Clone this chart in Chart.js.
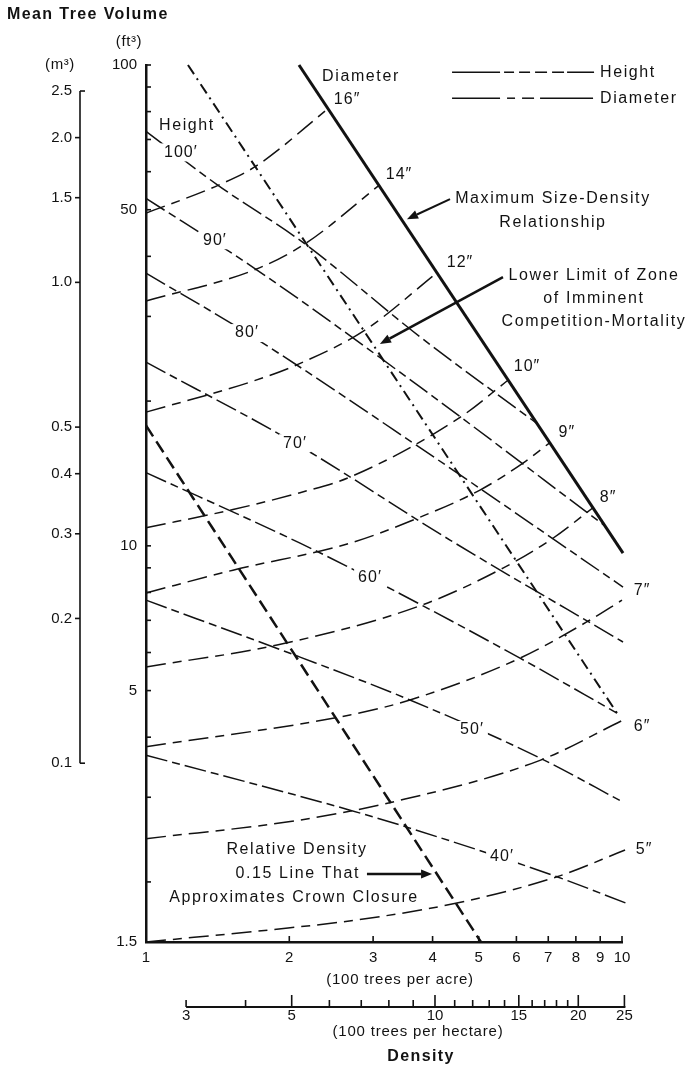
<!DOCTYPE html>
<html>
<head>
<meta charset="utf-8">
<script src="https://cdn.jsdelivr.net/npm/chart.js@4.4.1/dist/chart.umd.min.js"></script>
<style>
  html, body { margin: 0; padding: 0; background: #fff; }
  canvas { display: block; }
</style>
</head>
<body>
<canvas id="stand" width="692" height="1080"></canvas>
<script>
// Unit conversions for the secondary axes
const FT3_PER_M3 = 35.3147;          // 1 m3 = 35.3147 ft3
const HA_PER_ACRE_DENSITY = 2.47105; // trees/ha = trees/acre * 2.47105

// Density (100 trees per acre) vs. mean tree volume (ft3) along each height line
const height100 = [[1, 72.8], [1.417, 56.2], [2.147, 42.6], [3.764, 27.2], [6.627, 17.97]];
const height90  = [[1, 52.8], [1.702, 37.6], [3.764, 21.4], [9.21, 11.0]];
const height80  = [[1, 36.9], [1.63, 27.7], [3.764, 16.0], [10.05, 8.21]];
const height70  = [[1, 24.1], [2.056, 16.35], [4.352, 10.28], [10.05, 6.31]];
const height60  = [[1, 14.2], [2.107, 10.13], [2.955, 8.57], [6.106, 5.84], [9.76, 4.49]];
const height50  = [[1, 7.71], [2.107, 5.87], [3.585, 4.78], [6.725, 3.62], [10.05, 2.93]];
const height40  = [[1, 3.67], [2.683, 2.82], [3.53, 2.6], [7.3, 2.05], [10.3, 1.8]];

// Quadratic mean diameter lines
const dia16 = [[1, 49.2], [1.417, 56.2], [1.702, 61.6], [2.412, 81.1]];
const dia14 = [[1, 32.3], [1.702, 37.6], [2.168, 42.6], [3.087, 56.2]];
const dia12 = [[1, 18.97], [1.654, 21.9], [2.076, 23.8], [2.884, 28.1], [4.087, 37.0]];
const dia10 = [[1, 10.9], [1.523, 11.9], [2.107, 12.9], [2.683, 13.9], [4.568, 18.5], [5.761, 22.1]];
const dia9  = [[1, 7.98], [1.523, 8.9], [2.683, 10.13], [3.764, 11.47], [5.03, 13.06], [6.194, 14.86], [7.06, 16.4]];
const dia8  = [[1, 5.6], [1.885, 6.22], [3.8, 7.53], [5.623, 8.99], [7.16, 10.37], [8.69, 12.0]];
const dia7  = [[1, 3.82], [2.683, 4.45], [3.585, 4.78], [6.106, 5.84], [8.565, 7.01], [10.0, 7.71]];
const dia6  = [[1, 2.46], [2.107, 2.69], [3.336, 2.94], [6.725, 3.58], [10.05, 4.34]];
const dia5  = [[1, 1.5], [1.988, 1.604], [2.776, 1.667], [4.5, 1.808], [7.3, 2.05], [10.15, 2.33]];

// Reference lines
const maxSizeDensity  = [[2.096, 100], [10.05, 9.66]];
const mortalityLimit  = [[1.225, 100], [9.76, 4.49]];
const crownClosure015 = [[1, 17.8], [5.055, 1.5]];

// Axis ticks
const acreTicks = [1, 2, 3, 4, 5, 6, 7, 8, 9, 10];
const ft3Ticks  = [1.5, 2, 3, 4, 5, 6, 7, 8, 9, 10, 20, 30, 40, 50, 60, 70, 80, 90, 100];
const ft3Labels = [1.5, 5, 10, 50, 100];
const m3Ticks   = [0.1, 0.2, 0.3, 0.4, 0.5, 1.0, 1.5, 2.0, 2.5];
const haTicks   = [3, 4, 5, 6, 7, 8, 9, 10, 11, 12, 13, 14, 15, 16, 17, 18, 19, 20, 25];
const haLabels  = [3, 5, 10, 15, 20, 25];
const haMajor   = [5, 10, 15, 20, 25];

// Text placed on the plot, in data units (density, ft3)
const heightNames = [
  ["100′", 1.184, 65.8], ["90′", 1.396, 43.2], ["80′", 1.63, 27.7], ["70′", 2.056, 16.35],
  ["60′", 2.955, 8.57], ["50′", 4.84, 4.14], ["40′", 5.596, 2.253]
];
const diameterNames = [
  ["16″", 2.645, 84.9], ["14″", 3.401, 59.3], ["12″", 4.568, 38.9], ["10″", 6.316, 23.6],
  ["9″", 7.66, 17.2], ["8″", 9.35, 12.6], ["7″", 11.02, 8.09], ["6″", 11.02, 4.2], ["5″", 11.13, 2.33]
];
const notes = [
  ["Height", 1.219, 74.9], ["Diameter", 2.829, 94.7],
  ["Maximum Size-Density", 7.16, 52.8], ["Relationship", 7.16, 47.1],
  ["Lower Limit of Zone", 8.73, 36.4], ["of Imminent", 8.73, 32.7], ["Competition-Mortality", 8.73, 29.2],
  ["Relative Density", 2.076, 2.34], ["Approximates Crown Closure", 2.046, 1.852]
];
const arrows = [
  [[4.352, 52.6], [3.534, 47.8], 2],
  [[5.623, 36.2], [3.10, 26.3], 2.5],
  [[2.912, 2.077], [3.99, 2.077], 2.5]
];

const INK = '#121212';
const FAMILY = '"Liberation Sans", Arial, Helvetica, sans-serif';

const HEIGHT_STYLE = { borderWidth: 1.5, borderDash: [22, 5, 8, 5] };
const DIAMETER_STYLE = { borderWidth: 1.5, borderDash: [20, 7, 9, 7] };

function series(points, style) {
  return Object.assign({
    data: points.map(([x, y]) => ({ x, y })),
    borderColor: INK,
    pointRadius: 0,
    fill: false,
    cubicInterpolationMode: 'monotone',
    clip: 10
  }, style);
}

function text(ctx, s, px, py, o = {}) {
  ctx.save();
  ctx.font = `${o.bold ? 'bold ' : ''}${o.size || 16}px ${FAMILY}`;
  ctx.letterSpacing = (o.spacing ?? 1.6) + 'px';
  ctx.textAlign = o.align || 'center';
  ctx.textBaseline = 'middle';
  if (o.knock) {
    const w = ctx.measureText(s).width;
    const left = ctx.textAlign === 'left' ? px : ctx.textAlign === 'right' ? px - w : px - w / 2;
    ctx.fillStyle = '#fff';
    ctx.fillRect(left - 4, py - 9, w + 8, 18);
  }
  ctx.fillStyle = INK;
  ctx.fillText(s, px, py);
  ctx.restore();
}

function seg(ctx, x1, y1, x2, y2) {
  ctx.beginPath(); ctx.moveTo(x1, y1); ctx.lineTo(x2, y2); ctx.stroke();
}

function arrow(ctx, x1, y1, x2, y2, w) {
  const ang = Math.atan2(y2 - y1, x2 - x1);
  const head = 11, half = 4.5;
  const bx = x2 - head * Math.cos(ang), by = y2 - head * Math.sin(ang);
  ctx.lineWidth = w;
  seg(ctx, x1, y1, bx, by);
  ctx.beginPath();
  ctx.moveTo(x2, y2);
  ctx.lineTo(bx + half * Math.sin(ang), by - half * Math.cos(ang));
  ctx.lineTo(bx - half * Math.sin(ang), by + half * Math.cos(ang));
  ctx.closePath();
  ctx.fill();
}

const decorations = {
  id: 'decorations',
  afterDraw(chart) {
    const { ctx, chartArea: a, scales: { x, y, x2, y2 } } = chart;
    const P = (vx, vy) => [x.getPixelForValue(vx), y.getPixelForValue(vy)];
    ctx.save();
    ctx.strokeStyle = INK;
    ctx.fillStyle = INK;
    ctx.lineCap = 'butt';

    // inward tick marks on the main axes
    ctx.lineWidth = 1.6;
    y.ticks.forEach(t => { const py = y.getPixelForValue(t.value); seg(ctx, a.left, py, a.left + 5, py); });
    x.ticks.forEach(t => { const px = x.getPixelForValue(t.value); seg(ctx, px, a.bottom, px, a.bottom - 6); });

    // cubic metre scale
    const mMax = Math.max(...m3Ticks), mMin = Math.min(...m3Ticks);
    const mTop = y2.getPixelForValue(mMax);
    const mBot = y2.getPixelForValue(mMin);
    const mx = y2.right;
    ctx.lineWidth = 1.6;
    seg(ctx, mx, mTop, mx, mBot);
    m3Ticks.forEach(v => {
      const py = y2.getPixelForValue(v);
      const end = (v === mMax || v === mMin);
      seg(ctx, mx, py, end ? mx + 5 : mx - 5, py);
    });

    // trees-per-hectare scale
    const hy = x2.top;
    ctx.lineWidth = 2;
    seg(ctx, x2.getPixelForValue(haTicks[0]), hy, x2.getPixelForValue(haTicks[haTicks.length - 1]) + 1, hy);
    ctx.lineWidth = 1.6;
    haTicks.forEach(v => {
      const px = x2.getPixelForValue(v);
      seg(ctx, px, hy, px, hy - (haMajor.includes(v) ? 12 : 7));
    });

    // axis captions
    text(ctx, 'Mean Tree Volume', 7, 15, { bold: true, align: 'left', spacing: 1.4 });
    text(ctx, '(ft³)', y.right - 17, a.top - 23, { size: 15, spacing: 0.6 });
    text(ctx, '(m³)', y2.right - 20, a.top, { size: 15, spacing: 0.6 });
    text(ctx, '(100 trees per acre)', a.left + 254, a.bottom + 38, { size: 15, spacing: 0.8 });
    text(ctx, '(100 trees per hectare)', a.left + 272, x2.top + 25, { size: 15, spacing: 0.8 });
    text(ctx, 'Density', a.left + 275, x2.top + 50, { bold: true, spacing: 1.4 });

    // line names
    heightNames.forEach(([s, vx, vy]) => { const [px, py] = P(vx, vy); text(ctx, s, px, py, { knock: true, spacing: 1 }); });
    diameterNames.forEach(([s, vx, vy]) => { const [px, py] = P(vx, vy); text(ctx, s, px, py, { spacing: 1 }); });
    notes.forEach(([s, vx, vy]) => { const [px, py] = P(vx, vy); text(ctx, s, px, py); });
    { const [px, py] = P(2.817, 2.077); text(ctx, '0.15 Line That', px, py, { align: 'right' }); }

    // arrows
    arrows.forEach(([from, to, w]) => {
      const [x1, y1] = P(from[0], from[1]);
      const [x2p, y2p] = P(to[0], to[1]);
      arrow(ctx, x1, y1, x2p, y2p, w);
    });

    // key
    const kx = x.getPixelForValue(4.395);
    const rows = [
      ['Height', y.getPixelForValue(96.6), [[0, 48], [52, 62], [67, 78], [83, 95], [100, 112], [115, 142]]],
      ['Diameter', y.getPixelForValue(85.3), [[0, 48], [55, 63], [70, 82], [88, 141]]]
    ];
    ctx.lineWidth = 1.5;
    rows.forEach(([label, py, parts]) => {
      parts.forEach(([s, e]) => seg(ctx, kx + s, py, kx + e, py));
      text(ctx, label, kx + 148, py, { align: 'left' });
    });
    ctx.restore();
  }
};

const tickFont = { family: FAMILY, size: 15 };

new Chart(document.getElementById('stand'), {
  type: 'line',
  data: {
    datasets: [
      ...[height100, height90, height80, height70, height60, height50, height40].map(p => series(p, HEIGHT_STYLE)),
      ...[dia16, dia14, dia12, dia10, dia9, dia8, dia7, dia6, dia5].map(p => series(p, DIAMETER_STYLE)),
      series(maxSizeDensity, { borderWidth: 3 }),
      series(mortalityLimit, { borderWidth: 2, borderDash: [11, 5, 2, 5] }),
      series(crownClosure015, { borderWidth: 2.5, borderDash: [13, 6] })
    ]
  },
  options: {
    responsive: false,
    animation: false,
    devicePixelRatio: 1,
    layout: { padding: { left: 0, right: 70, top: 65, bottom: 43 } },
    plugins: { legend: { display: false }, tooltip: { enabled: false }, title: { display: false } },
    scales: {
      x: {
        type: 'logarithmic', position: 'bottom', weight: 0, min: 1, max: 10,
        afterBuildTicks: s => { s.ticks = acreTicks.map(v => ({ value: v })); },
        afterFit: s => { s.height = 65; },
        grid: { display: false, drawTicks: false },
        border: { display: true, width: 2.5, color: INK },
        ticks: { autoSkip: false, maxRotation: 0, padding: 7, color: INK, font: tickFont, callback: v => String(v) }
      },
      x2: {
        type: 'logarithmic', position: 'bottom', weight: 1,
        min: 1 * HA_PER_ACRE_DENSITY, max: 10 * HA_PER_ACRE_DENSITY,
        afterBuildTicks: s => { s.ticks = haTicks.map(v => ({ value: v })); },
        afterFit: s => { s.height = 30; },
        grid: { display: false, drawTicks: false },
        border: { display: false },
        ticks: { autoSkip: false, maxRotation: 0, padding: 0, color: INK, font: tickFont,
                 callback: v => haLabels.includes(v) ? String(v) : '' }
      },
      y: {
        type: 'logarithmic', position: 'left', weight: 0, min: 1.5, max: 100,
        afterBuildTicks: s => { s.ticks = ft3Ticks.map(v => ({ value: v })); },
        afterFit: s => { s.width = 66; },
        grid: { display: false, drawTicks: false },
        border: { display: true, width: 2.5, color: INK },
        ticks: { autoSkip: false, padding: 9, color: INK, font: tickFont,
                 callback: v => ft3Labels.includes(v) ? String(v) : '' }
      },
      y2: {
        type: 'logarithmic', position: 'left', weight: 1,
        min: 1.5 / FT3_PER_M3, max: 100 / FT3_PER_M3,
        afterBuildTicks: s => { s.ticks = m3Ticks.map(v => ({ value: v })); },
        afterFit: s => { s.width = 80; },
        grid: { display: false, drawTicks: false },
        border: { display: false },
        ticks: { autoSkip: false, padding: 8, color: INK, font: tickFont, callback: v => v.toFixed(1) }
      }
    }
  },
  plugins: [decorations]
});
</script>
</body>
</html>
